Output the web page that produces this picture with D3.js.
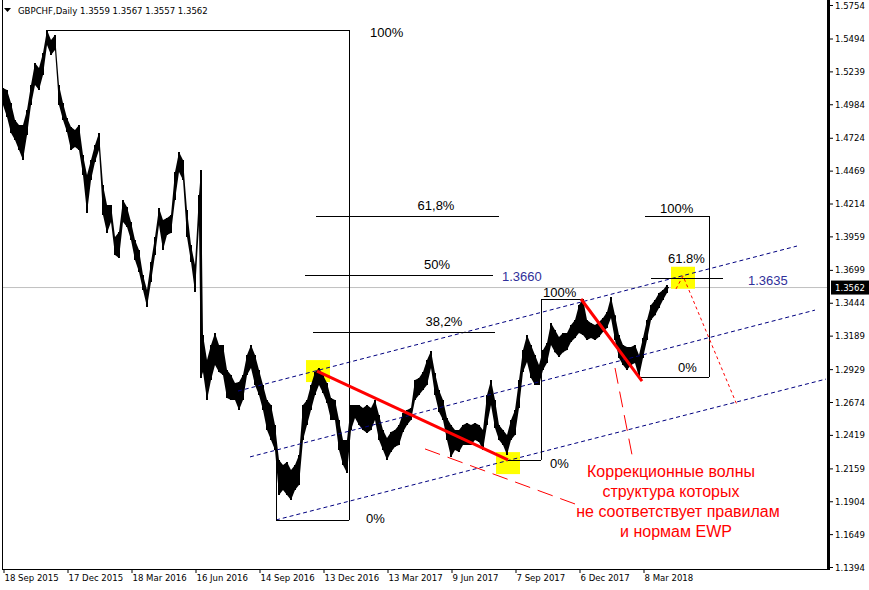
<!DOCTYPE html>
<html><head><meta charset="utf-8">
<script src="https://cdn.jsdelivr.net/npm/d3@7"></script>
<style>body{margin:0;background:#fff}svg{display:block}</style>
</head><body><svg id="c" width="869" height="590"></svg>
<script>
// ---------- data ----------
const symbol = "GBPCHF,Daily";
const ohlc = [1.3559, 1.3567, 1.3557, 1.3562];
const lastPrice = 1.3562;

const barIdx = [0,4,8,12,16,20,24,28,32,36,40,44,48,52,56,60,64,68,72,76,80,84,88,92,96,100,104,108,112,116,120,124,128,132,136,140,144,148,152,156,160,164,168,172,176,180,184,188,192,196,198,200,
204,208,212,216,220,224,228,232,236,240,244,248,252,256,260,264,268,272,276,280,284,288,292,296,300,304,308,312,316,320,324,328,332,336,340,344,348,352,356,360,364,368,372,376,380,384,388,392,396,400,404,408,412,416,420,424,428,432,436,440,444,448,452,456,460,464,468,472,476,480,484,488,492,496,500,504,508,512,516,520,524,528,532,536,540,544,548,552,556,560,564,568,572,576,580,584,588,592,596,600,604,608,612,616,620,624,628,632,636,640,644,648,652,656,660,664,665];

const highs = [1.5110,1.5095,1.4994,1.4862,1.4823,1.4823,1.4939,1.5133,1.5305,1.5266,1.5382,1.5560,1.5483,1.5521,1.5133,1.4994,1.4877,1.4808,1.4784,1.4823,1.4590,1.4435,1.4552,1.4668,1.4761,1.4357,1.4202,1.4202,1.3954,1.3993,1.4241,1.4187,1.4070,1.3931,1.3853,1.3659,1.3543,1.3760,1.3954,1.4179,1.4086,1.4101,1.4124,1.4458,1.4613,1.4552,1.4163,1.3892,1.3737,1.4280,1.4474,1.3193,
1.3000,1.3116,1.3209,1.3116,1.3116,1.2922,1.2883,1.2821,1.2829,1.2883,1.3038,1.3116,1.3038,1.2922,1.2805,1.2690,1.2651,1.2496,1.2225,1.2186,1.2209,1.2147,1.2186,1.2263,1.2651,1.2690,1.2805,1.2906,1.2938,1.2883,1.2821,1.2705,1.2690,1.2535,1.2380,1.2380,1.2651,1.2651,1.2651,1.2628,1.2651,1.2628,1.2690,1.2573,1.2457,1.2395,1.2442,1.2457,1.2496,1.2589,1.2612,1.2628,1.2844,1.2860,1.2906,1.3000,1.3069,1.2899,1.2767,1.2690,1.2550,1.2496,1.2457,1.2457,1.2496,1.2512,1.2496,1.2512,1.2496,1.2457,1.2728,1.2844,1.2690,1.2496,1.2457,1.2418,1.2535,1.2612,1.2844,1.3077,1.3193,1.3116,1.3038,1.2961,1.3077,1.3132,1.3287,1.3232,1.3178,1.3209,1.3209,1.3271,1.3310,1.3426,1.3473,1.3310,1.3287,1.3271,1.3294,1.3325,1.3372,1.3488,1.3348,1.3193,1.3116,1.3101,1.3101,1.3116,1.3038,1.3170,1.3310,1.3426,1.3465,1.3520,1.3543,1.3581,1.3567];

const lows = [1.4978,1.4885,1.4761,1.4707,1.4629,1.4552,1.4745,1.4978,1.5133,1.5095,1.5211,1.5444,1.5366,1.5405,1.4978,1.4862,1.4768,1.4629,1.4653,1.4629,1.4435,1.4140,1.4396,1.4536,1.4629,1.4124,1.3985,1.4070,1.3814,1.3791,1.4070,1.4032,1.3931,1.3776,1.3682,1.3543,1.3411,1.3605,1.3814,1.4047,1.3853,1.3969,1.3985,1.4241,1.4458,1.4396,1.3954,1.3760,1.3527,1.4047,1.2860,1.2906,
1.2690,1.2844,1.2961,1.2906,1.2883,1.2705,1.2690,1.2690,1.2612,1.2690,1.2883,1.2938,1.2805,1.2728,1.2612,1.2457,1.2380,1.2302,1.1953,1.1992,1.1953,1.1914,1.1992,1.2030,1.2380,1.2496,1.2612,1.2728,1.2805,1.2744,1.2667,1.2535,1.2535,1.2302,1.2186,1.2124,1.2457,1.2550,1.2496,1.2457,1.2434,1.2457,1.2535,1.2380,1.2302,1.2225,1.2286,1.2326,1.2341,1.2442,1.2496,1.2535,1.2690,1.2728,1.2767,1.2805,1.2938,1.2728,1.2597,1.2535,1.2380,1.2248,1.2302,1.2286,1.2341,1.2341,1.2341,1.2380,1.2364,1.2302,1.2496,1.2651,1.2473,1.2380,1.2341,1.2263,1.2380,1.2418,1.2628,1.2906,1.2984,1.2860,1.2805,1.2805,1.2922,1.2976,1.3116,1.3061,1.3023,1.3061,1.3077,1.3139,1.3170,1.3209,1.3193,1.3155,1.3170,1.3155,1.3178,1.3217,1.3248,1.3325,1.3155,1.3015,1.2961,1.2922,1.2961,1.2976,1.2868,1.3015,1.3155,1.3310,1.3348,1.3403,1.3465,1.3520,1.3557];

const priceTicks = [1.5754,1.5494,1.5239,1.4984,1.4724,1.4469,1.4214,1.3959,1.3699,1.3444,1.3189,1.2929,1.2674,1.2419,1.2159,1.1904,1.1649,1.1394];
const dateTickIdx = [0,64,128,192,256,320,384,448,512,576,640];
const dateTickLabels = ["18 Sep 2015","17 Dec 2015","18 Mar 2016","16 Jun 2016","14 Sep 2016","13 Dec 2016","13 Mar 2017","9 Jun 2017","7 Sep 2017","6 Dec 2017","8 Mar 2018"];

// Fibonacci retracement of the big fall
const fibLevels = [1.4117, 1.3660, 1.3217];
const fibLevelLabels = ["61,8%", "50%", "38,2%"];
const fibLevelSpans = [[313,496],[302,490],[310,492]];
// Fibonacci boxes: [startTop, endIdx, topPrice, startBottom, bottomPrice]
const fibBox1 = {topFrom:45, x:346, top:1.5560, botFrom:273, bottom:1.1758};
const fibBox2 = {topFrom:578, x:538, top:1.3473, botFrom:505, bottom:1.2225};
const fibBox3 = {topFrom:642, x:706, top:1.4117, botFrom:637, bottom:1.2868};
const fib3Level = {from:648, to:720, price:1.3635, label:"61.8%"};

// channel lines [idx0, price0, idx1, price1]
const channel = [[235,1.2759,794,1.3884],[247,1.2248,812,1.3387],[273,1.1759,823,1.2852]];
// red wave lines
const redWaves = [[314,1.2914,505,1.2225],[578,1.3473,639,1.2836]];
const redDashed = [[422,1.2310,572,1.1883],[612,1.2938,630,1.2225]];
const redDotted = [[673,1.3551],[680,1.3652],[734,1.2651]];
const markers = [[315,1.2914],[505,1.2200],[680,1.3638]];
const noteLines = ["Коррекционные волны","структура которых","не соответствует правилам","и нормам EWP"];

// ---------- drawing ----------
const svg = d3.select("#c");
svg.append("rect").attr("width",869).attr("height",590).attr("fill","#fff");
const x = d3.scaleLinear().domain([0, 826]).range([3, 829]);
const y = d3.scaleLinear().domain([1.1394, 1.5754]).range([567, 5]);
const AX = "'DejaVu Sans Condensed','DejaVu Sans',sans-serif";
const AR = "'Liberation Sans',Arial,sans-serif";

// current price line
svg.append("line").attr("x1",2).attr("x2",827).attr("y1",y(lastPrice)).attr("y2",y(lastPrice))
  .attr("stroke","#c0c0c0").attr("stroke-width",1);

// frame
svg.append("line").attr("x1",2.5).attr("x2",2.5).attr("y1",0).attr("y2",569.5).attr("stroke","#000");
svg.append("line").attr("x1",2).attr("x2",830).attr("y1",569.5).attr("y2",569.5).attr("stroke","#000");
svg.append("rect").attr("x",827).attr("y",0).attr("width",3).attr("height",570).attr("fill","#000");

// header
svg.append("path").attr("d","M4,8 L11,8 L7.5,12 Z").attr("fill","#000");
svg.append("text").attr("x",18).attr("y",13.5).attr("font-family",AX).attr("font-size",9.5)
  .attr("fill","#000").text(symbol + "  " + ohlc.map(d=>d.toFixed(4)).join(" "));

// yellow markers
svg.append("g").selectAll("rect").data(markers).join("rect")
  .attr("x",d=>x(d[0])-12).attr("y",d=>y(d[1])-11).attr("width",24).attr("height",22).attr("fill","#ffff00");

// price series
const pts = barIdx.map((b,i)=>({i:b, hi:highs[i], lo:lows[i]}));
svg.append("path").datum(pts)
  .attr("d", d3.area().x(d=>x(d.i)).y0(d=>y(d.lo)).y1(d=>y(d.hi)))
  .attr("fill","#000");
svg.append("g").selectAll("line").data(pts).join("line")
  .attr("x1",d=>x(d.i)).attr("x2",d=>x(d.i)).attr("y1",d=>y(d.hi)).attr("y2",d=>y(d.lo))
  .attr("stroke","#000").attr("stroke-width",2);

// channel
svg.append("g").selectAll("line").data(channel).join("line")
  .attr("x1",d=>x(d[0])).attr("y1",d=>y(d[1])).attr("x2",d=>x(d[2])).attr("y2",d=>y(d[3]))
  .attr("stroke","#000080").attr("stroke-width",1).attr("stroke-dasharray","4,3");

// fib boxes
function fibBox(b){
  const g = svg.append("g").attr("stroke","#000").attr("stroke-width",1).attr("fill","none");
  g.append("line").attr("x1",x(b.topFrom)).attr("x2",x(b.x)).attr("y1",Math.round(y(b.top))+0.5).attr("y2",Math.round(y(b.top))+0.5);
  g.append("line").attr("x1",x(b.botFrom)).attr("x2",x(b.x)).attr("y1",Math.round(y(b.bottom))+0.5).attr("y2",Math.round(y(b.bottom))+0.5);
  g.append("line").attr("x1",Math.round(x(b.x))+0.5).attr("x2",Math.round(x(b.x))+0.5).attr("y1",y(b.top)).attr("y2",y(b.bottom));
}
fibBox(fibBox1); fibBox(fibBox2); fibBox(fibBox3);
svg.append("line").attr("x1",x(fibBox1.botFrom)+0.5).attr("x2",x(fibBox1.botFrom)+0.5)
  .attr("y1",y(1.2302)).attr("y2",y(fibBox1.bottom)).attr("stroke","#000");

// fib levels
svg.append("g").selectAll("line").data(fibLevels).join("line")
  .attr("x1",(d,i)=>x(fibLevelSpans[i][0])).attr("x2",(d,i)=>x(fibLevelSpans[i][1]))
  .attr("y1",d=>Math.round(y(d))+0.5).attr("y2",d=>Math.round(y(d))+0.5).attr("stroke","#000");
svg.append("line").attr("x1",x(fib3Level.from)).attr("x2",x(fib3Level.to))
  .attr("y1",Math.round(y(fib3Level.price))+0.5).attr("y2",Math.round(y(fib3Level.price))+0.5).attr("stroke","#000");

// red lines
svg.append("g").selectAll("line").data(redWaves).join("line")
  .attr("x1",d=>x(d[0])).attr("y1",d=>y(d[1])).attr("x2",d=>x(d[2])).attr("y2",d=>y(d[3]))
  .attr("stroke","#ff0000").attr("stroke-width",3);
svg.append("g").selectAll("line").data(redDashed).join("line")
  .attr("x1",d=>x(d[0])).attr("y1",d=>y(d[1])).attr("x2",d=>x(d[2])).attr("y2",d=>y(d[3]))
  .attr("stroke","#ff0000").attr("stroke-width",1).attr("stroke-dasharray","16,8");
svg.append("path").datum(redDotted).attr("d",d3.line().x(d=>x(d[0])).y(d=>y(d[1])))
  .attr("fill","none").attr("stroke","#ff0000").attr("stroke-width",1).attr("stroke-dasharray","3,3");

// fib texts
function t(txt,px,py,anchor,color){
  svg.append("text").attr("x",px).attr("y",py).attr("text-anchor",anchor||"start")
    .attr("font-family",AR).attr("font-size",13).attr("fill",color||"#000").text(txt);
}
t("100%", x(fibBox1.x)+21, y(fibBox1.top)+6.5);
t("0%", x(fibBox1.x)+17, y(fibBox1.bottom)+3);
const levelCenters = [436, 437, 444];
fibLevels.forEach((p,i)=>t(fibLevelLabels[i], levelCenters[i], y(p)-6, "middle"));
t(fibLevels[1].toFixed(4), x(fibLevelSpans[1][1])+9, y(fibLevels[1])+6, "start", "#30309a");
t("100%", x(fibBox2.x)+2, y(fibBox2.top)-2);
t("0%", x(fibBox2.x)+9, y(fibBox2.bottom)+8);
t("100%", 660, y(fibBox3.top)-3);
t("0%", 678, y(fibBox3.bottom)-5);
t(fib3Level.label, 668, y(fib3Level.price)-15);
t(fib3Level.price.toFixed(4), 748, y(fib3Level.price)+7, "start", "#30309a");

// note
const noteX = [671, 671, 678, 676];
svg.append("g").selectAll("text").data(noteLines).join("text")
  .attr("x",(d,i)=>noteX[i]).attr("y",(d,i)=>477+i*20).attr("text-anchor","middle")
  .attr("font-family",AR).attr("font-size",16).attr("fill","#ff0000").text(d=>d);

// right axis
const ra = svg.append("g").attr("transform","translate(830,0)")
  .call(d3.axisRight(y).tickValues(priceTicks).tickSize(3).tickPadding(2).tickFormat(d3.format(".4f")));
ra.select(".domain").remove();
ra.selectAll("text").attr("font-family",AX).attr("font-size",9.5).attr("fill","#000");
ra.selectAll("line").attr("stroke","#000");

// current price label
svg.append("rect").attr("x",831).attr("y",y(lastPrice)-7).attr("width",38).attr("height",14).attr("fill","#000");
svg.append("text").attr("x",835).attr("y",y(lastPrice)+3.5).attr("font-family",AX).attr("font-size",9.5)
  .attr("fill","#fff").text(lastPrice.toFixed(4));

// bottom axis
const ba = svg.append("g").attr("transform","translate(0,569)")
  .call(d3.axisBottom(x).tickValues(dateTickIdx).tickSize(4).tickPadding(1).tickFormat((d,i)=>dateTickLabels[i]));
ba.select(".domain").remove();
ba.selectAll("line").attr("stroke","#000").attr("transform","translate(0.5,0)");
ba.selectAll("text").attr("font-family",AX).attr("font-size",9.5).attr("fill","#000")
  .attr("text-anchor","start").attr("dx",1);
</script></body></html>
